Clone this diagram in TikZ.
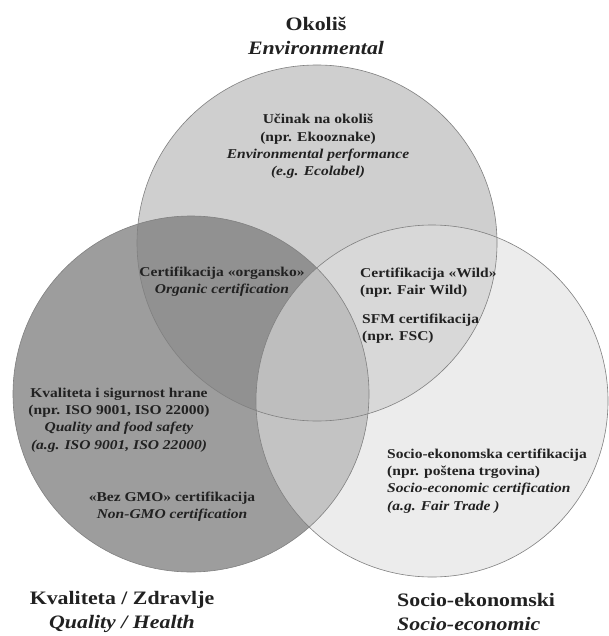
\documentclass[tikz,border=0pt]{standalone}
\usepackage{fontspec}
\setmainfont{Liberation Serif}[FakeStretch=1.15]
\definecolor{txt}{gray}{0.13}
\definecolor{ctop}{gray}{0.81}
\definecolor{cleft}{gray}{0.49}
\definecolor{cright}{gray}{0.875}
\definecolor{cline}{gray}{0.5}
\tikzset{
  body/.style={font=\fontsize{13.5}{17.3}\selectfont\bfseries, text=txt, inner sep=0pt},
  ttl/.style={font=\fontsize{19}{24}\selectfont\bfseries, text=txt, inner sep=0pt},
  rim/.style={draw=cline, line width=0.6pt},
}
\begin{document}
\begin{tikzpicture}[x=1pt,y=-1pt]
\useasboundingbox (0,0) rectangle (608,636);
\fill[white] (0,0) rectangle (608,636);
% circles
\fill[ctop] (317,243) ellipse [x radius=180, y radius=178];
\fill[cleft, fill opacity=0.75] (191,394) circle [radius=178];
\fill[cright, fill opacity=0.59] (432,401) circle [radius=176];
\draw[rim] (317,243) ellipse [x radius=180, y radius=178];
\draw[rim] (191,394) circle [radius=178];
\draw[rim] (432,401) circle [radius=176];
% titles
\node[ttl, align=center] (tEnv) at (316,35.5) {Okoliš\\\textit{Environmental}};
\node[ttl, align=center] (tQual) at (122,612) {Kvaliteta / Zdravlje\\\textit{Quality / Health}};
\node[ttl, align=left, anchor=west] (tSoc) at (397,612) {Socio-ekonomski\\\textit{Socio-economic}};
% region texts
\node[body, align=center] (envperf) at (318,146.5) {Učinak na okoliš\\(npr. Ekooznake)\\\textit{Environmental performance}\\\textit{(e.g. Ecolabel)}};
\node[body, align=center] (organic) at (222,282) {Certifikacija «organsko»\\\textit{Organic certification}};
\node[body, align=left, anchor=west] (wild) at (360,282.5) {Certifikacija «Wild»\\(npr. Fair Wild)};
\node[body, align=left, anchor=west] (sfm) at (362,328.5) {SFM certifikacija\\(npr. FSC)};
\node[body, align=center] (quality) at (119,420) {Kvaliteta i sigurnost hrane\\(npr. ISO 9001, ISO 22000)\\\textit{Quality and food safety}\\\textit{(a.g. ISO 9001, ISO 22000)}};
\node[body, align=center] (gmo) at (172,507) {«Bez GMO» certifikacija\\\textit{Non-GMO certification}};
\node[body, align=left, anchor=west] (socio) at (387,481) {Socio-ekonomska certifikacija\\(npr. poštena trgovina)\\\textit{Socio-economic certification}\\\textit{(a.g. Fair Trade )}};
\end{tikzpicture}
\end{document}
